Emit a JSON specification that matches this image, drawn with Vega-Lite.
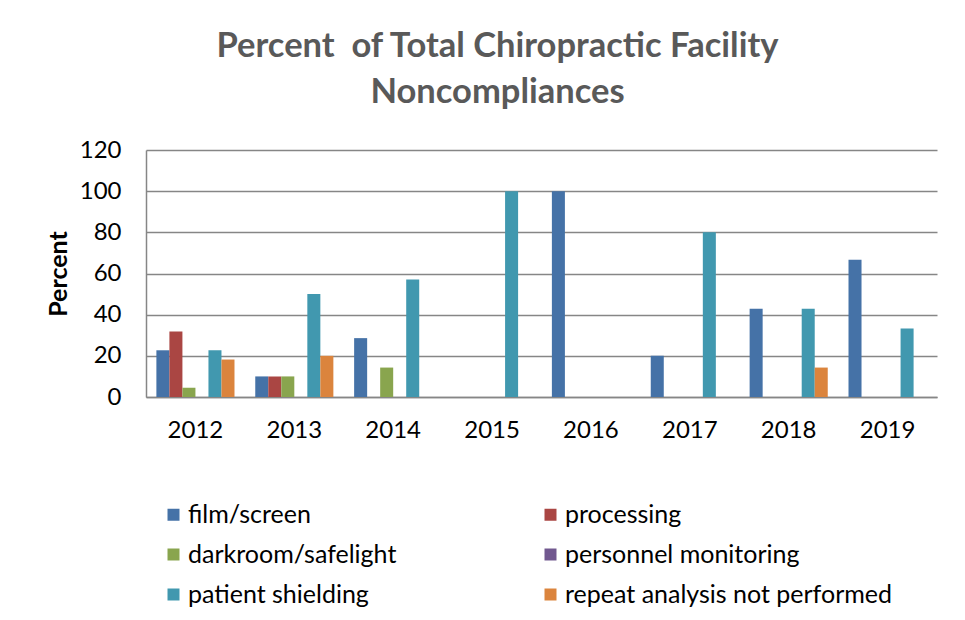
{
  "$schema": "https://vega.github.io/schema/vega-lite/v6.json",
  "width": 791,
  "height": 247,
  "autosize": "none",
  "padding": {"left": 146, "top": 150, "right": 28, "bottom": 223},
  "background": "white",
  "config": {
    "font": "Lato",
    "view": {"stroke": null},
    "axis": {"labelFont": "Lato", "labelColor": "#000000", "labelFontSize": 24, "titleFont": "Lato"},
    "legend": {"labelFont": "Lato"}
  },
  "title": {
    "text": ["Percent\u00a0 of Total Chiropractic Facility", "Noncompliances"],
    "font": "Lato",
    "fontSize": 34.5,
    "fontWeight": "bold",
    "color": "#595959",
    "anchor": "middle",
    "dx": -44,
    "offset": 28,
    "lineHeight": 46
  },
  "data": {
    "values": [
      {"year": "2012", "category": "film/screen", "percent": 22.7},
      {"year": "2012", "category": "processing", "percent": 31.8},
      {"year": "2012", "category": "darkroom/safelight", "percent": 4.5},
      {"year": "2012", "category": "patient shielding", "percent": 22.7},
      {"year": "2012", "category": "repeat analysis not performed", "percent": 18.2},
      {"year": "2013", "category": "film/screen", "percent": 10},
      {"year": "2013", "category": "processing", "percent": 10},
      {"year": "2013", "category": "darkroom/safelight", "percent": 10},
      {"year": "2013", "category": "patient shielding", "percent": 50},
      {"year": "2013", "category": "repeat analysis not performed", "percent": 20},
      {"year": "2014", "category": "film/screen", "percent": 28.6},
      {"year": "2014", "category": "darkroom/safelight", "percent": 14.3},
      {"year": "2014", "category": "patient shielding", "percent": 57.1},
      {"year": "2015", "category": "patient shielding", "percent": 100},
      {"year": "2016", "category": "film/screen", "percent": 100},
      {"year": "2017", "category": "film/screen", "percent": 20},
      {"year": "2017", "category": "patient shielding", "percent": 80},
      {"year": "2018", "category": "film/screen", "percent": 42.9},
      {"year": "2018", "category": "patient shielding", "percent": 42.9},
      {"year": "2018", "category": "repeat analysis not performed", "percent": 14.3},
      {"year": "2019", "category": "film/screen", "percent": 66.7},
      {"year": "2019", "category": "patient shielding", "percent": 33.3}
    ]
  },
  "mark": {"type": "bar"},
  "encoding": {
    "x": {
      "field": "year",
      "type": "nominal",
      "scale": {"domain": ["2012","2013","2014","2015","2016","2017","2018","2019"], "paddingInner": 0.21, "paddingOuter": 0.105},
      "axis": {
        "title": null,
        "labelAngle": 0,
        "ticks": false,
        "domainColor": "#868686",
        "domainWidth": 1.5,
        "labelPadding": 21
      }
    },
    "xOffset": {
      "field": "category",
      "type": "nominal",
      "scale": {"domain": ["film/screen", "processing", "darkroom/safelight", "personnel monitoring", "patient shielding", "repeat analysis not performed"], "paddingInner": 0, "paddingOuter": 0}
    },
    "y": {
      "field": "percent",
      "type": "quantitative",
      "scale": {"domain": [0, 120], "nice": false},
      "axis": {
        "title": "Percent",
        "titleFontSize": 25,
        "titleFontWeight": "bold",
        "titleColor": "#000000",
        "titlePadding": 8,
        "values": [0, 20, 40, 60, 80, 100, 120],
        "ticks": false,
        "labelPadding": 25,
        "domainColor": "#868686",
        "domainWidth": 1.5,
        "gridColor": "#868686",
        "gridWidth": 1.5
      }
    },
    "color": {
      "field": "category",
      "type": "nominal",
      "scale": {
        "domain": ["film/screen", "darkroom/safelight", "patient shielding", "processing", "personnel monitoring", "repeat analysis not performed"],
        "range": ["#4572A7", "#89A54E", "#4198AF", "#AA4643", "#71588F", "#DB843D"]
      },
      "legend": {
        "title": null,
        "orient": "none",
        "legendX": 15,
        "legendY": 352,
        "columns": 2,
        "columnPadding": 141,
        "rowPadding": 14,
        "symbolType": "square",
        "symbolSize": 144,
        "symbolStrokeWidth": 0,
        "labelFontSize": 25,
        "labelColor": "#000000",
        "labelOffset": 2,
        "labelLimit": 400
      }
    }
  }
}
